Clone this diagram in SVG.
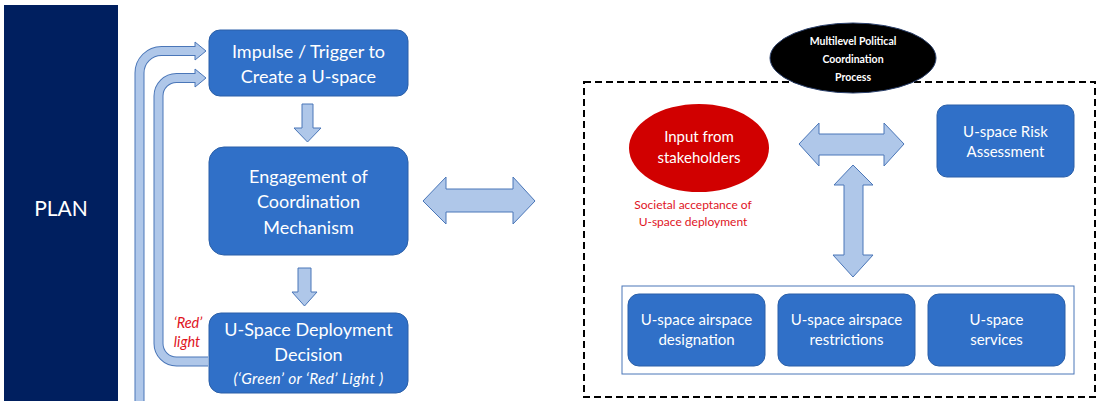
<svg xmlns="http://www.w3.org/2000/svg" width="1099" height="401" viewBox="0 0 1099 401">
  <defs>
    <style>
      .box { fill: #3070c8; stroke: #2a5fa8; stroke-width: 1; }
      .blk { fill: #afc7e9; stroke: #4a76b8; stroke-width: 1; }
      .wt { fill: #ffffff; font-family: Lato, "Open Sans", sans-serif; text-anchor: middle; }
      .red { fill: #e0141e; font-family: Lato, "Open Sans", sans-serif; text-anchor: middle; }
      .loopO { fill: none; stroke: #4a76b8; stroke-width: 10; }
      .loopI { fill: none; stroke: #afc7e9; stroke-width: 8; }
    </style>
  </defs>

  <rect width="1099" height="401" fill="#ffffff"/>

  <!-- plan column -->
  <g id="plan">
    <rect x="4" y="5" width="114" height="400" fill="#001f5f"/>
    <text class="wt" x="61" y="216" font-size="21">PLAN</text>
  </g>

  <!-- dashed boundary of the coordination process -->
  <rect x="584" y="82" width="511" height="315" fill="none" stroke="#000" stroke-width="2" stroke-dasharray="7,4"/>

  <g id="connectors">
    <!-- outer feedback loop -->
    <path class="loopO" d="M139.5,406 V73 A22,22 0 0 1 161.5,51 H197"/>
    <polygon class="blk" points="195,42 206,51 195,60"/>
    <path class="loopI" d="M139.5,406 V73 A22,22 0 0 1 161.5,51 H196"/>
    <!-- red-light loop -->
    <path class="loopO" d="M208,361.5 H176.5 A18,18 0 0 1 158.5,343.5 V96 A18,18 0 0 1 176.5,78 H197"/>
    <polygon class="blk" points="195,69 206,78 195,87"/>
    <path class="loopI" d="M208,361.5 H176.5 A18,18 0 0 1 158.5,343.5 V96 A18,18 0 0 1 176.5,78 H196"/>

    <polygon class="blk" points="302,104 313,104 313,128 321,128 307.5,142 294,128 302,128"/>
    <polygon class="blk" points="298,268 311,268 311,292 317,292 304.5,306 292,292 298,292"/>
    <polygon class="blk" points="423,201 446,177 446,189 513,189 513,177 535,201 513,224 513,212 446,212 446,224"/>
    <polygon class="blk" points="799,144 819,123 819,134 884,134 884,123 904,144 884,166 884,155 819,155 819,166"/>
    <polygon class="blk" points="853,165 873,185 863,185 863,255 873,255 853,277 833,255 844,255 844,185 834,185"/>
  </g>

  <g id="red-light-label">
    <text class="red" x="188" y="328" font-size="14.5" font-style="italic">‘Red’</text>
    <text class="red" x="187" y="347" font-size="14.5" font-style="italic">light</text>
  </g>

  <g id="trigger">
    <rect class="box" x="209" y="30" width="199" height="66" rx="11"/>
    <text class="wt" x="308.5" y="58" font-size="18">Impulse / Trigger to</text>
    <text class="wt" x="308.5" y="83" font-size="18">Create a U-space</text>
  </g>

  <g id="engagement">
    <rect class="box" x="209" y="147" width="199" height="108" rx="15"/>
    <text class="wt" x="308.5" y="183" font-size="18">Engagement of</text>
    <text class="wt" x="308.5" y="208" font-size="18">Coordination</text>
    <text class="wt" x="308.5" y="234" font-size="18">Mechanism</text>
  </g>

  <g id="decision">
    <rect class="box" x="209" y="313" width="199" height="80" rx="12"/>
    <text class="wt" x="308.5" y="336" font-size="18">U-Space Deployment</text>
    <text class="wt" x="308.5" y="361" font-size="18">Decision</text>
    <text class="wt" x="308.5" y="384" font-size="15.5" font-style="italic" letter-spacing="0.3">(‘Green’ or ‘Red’ Light )</text>
  </g>

  <g id="political-process">
    <ellipse cx="853" cy="58" rx="83" ry="35" fill="#000" stroke="#2a3f6a" stroke-width="1"/>
    <text class="wt" x="853" y="45" font-size="10.5" font-weight="bold">Multilevel Political</text>
    <text class="wt" x="853" y="63" font-size="10.5" font-weight="bold">Coordination</text>
    <text class="wt" x="853" y="81" font-size="10.5" font-weight="bold">Process</text>
  </g>

  <g id="stakeholders">
    <ellipse cx="699" cy="148" rx="70" ry="44" fill="#d10000"/>
    <text class="wt" x="699" y="142" font-size="15">Input from</text>
    <text class="wt" x="699" y="163" font-size="15">stakeholders</text>
    <text class="red" x="693" y="209" font-size="12">Societal acceptance of</text>
    <text class="red" x="693" y="226" font-size="12">U-space deployment</text>
  </g>

  <g id="risk-assessment">
    <rect class="box" x="937" y="105" width="137" height="72" rx="10"/>
    <text class="wt" x="1005.5" y="137" font-size="15">U-space Risk</text>
    <text class="wt" x="1005.5" y="157" font-size="15">Assessment</text>
  </g>

  <g id="uspace-elements">
    <rect x="622" y="286" width="452" height="88" fill="#ffffff" stroke="#4a76b8" stroke-width="1"/>
    <g id="designation">
      <rect class="box" x="628" y="294" width="137" height="72" rx="11"/>
      <text class="wt" x="696.5" y="325" font-size="15">U-space airspace</text>
      <text class="wt" x="696.5" y="345" font-size="15">designation</text>
    </g>
    <g id="restrictions">
      <rect class="box" x="778" y="294" width="137" height="72" rx="11"/>
      <text class="wt" x="846.5" y="325" font-size="15">U-space airspace</text>
      <text class="wt" x="846.5" y="345" font-size="15">restrictions</text>
    </g>
    <g id="services">
      <rect class="box" x="928" y="294" width="137" height="72" rx="11"/>
      <text class="wt" x="996.5" y="325" font-size="15">U-space</text>
      <text class="wt" x="996.5" y="345" font-size="15">services</text>
    </g>
  </g>
</svg>
